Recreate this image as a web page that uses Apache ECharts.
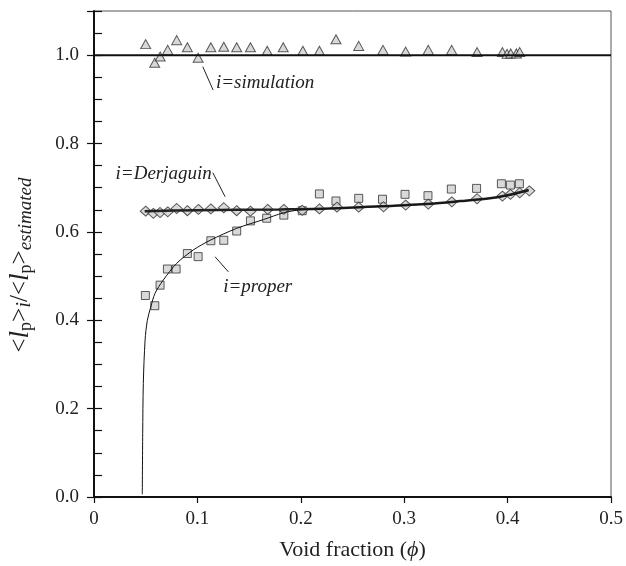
<!DOCTYPE html>
<html>
<head>
<meta charset="utf-8">
<script src="https://cdn.jsdelivr.net/npm/echarts@6/dist/echarts.min.js"></script>
<style>html,body{margin:0;padding:0;background:#fff}#c{width:626px;height:566px}</style>
</head>
<body>
<div id="c"></div>
<script>
// x = void fraction, y = ratio
const simulation = [
  [0.050,1.025],[0.0587,0.983],[0.064,0.997],[0.0713,1.012],[0.080,1.034],[0.0903,1.018],
  [0.1007,0.994],[0.113,1.018],[0.1255,1.019],[0.138,1.018],[0.1513,1.018],[0.1675,1.010],
  [0.183,1.018],[0.202,1.010],[0.218,1.010],[0.234,1.036],[0.256,1.021],[0.2795,1.012],
  [0.3014,1.008],[0.3233,1.012],[0.3459,1.012],[0.3705,1.007],[0.395,1.007],[0.3995,1.003],
  [0.403,1.004],[0.4085,1.004],[0.4117,1.007]
];
const derjaguin = [
  [0.050,0.647],[0.0574,0.642],[0.0639,0.644],[0.0713,0.6455],[0.080,0.653],[0.0903,0.648],
  [0.101,0.651],[0.113,0.652],[0.1255,0.6546],[0.138,0.648],[0.1513,0.647],[0.168,0.651],
  [0.1836,0.651],[0.2014,0.649],[0.218,0.652],[0.235,0.656],[0.256,0.656],[0.280,0.657],
  [0.3014,0.6607],[0.3233,0.663],[0.346,0.668],[0.3705,0.675],[0.395,0.681],[0.4027,0.685],
  [0.4117,0.6886],[0.421,0.693]
];
const proper = [
  [0.0497,0.456],[0.0588,0.433],[0.0639,0.4795],[0.071,0.516],[0.0794,0.516],[0.0903,0.551],
  [0.1007,0.544],[0.113,0.580],[0.1255,0.581],[0.138,0.602],[0.1513,0.625],[0.167,0.631],
  [0.1836,0.638],[0.2014,0.648],[0.218,0.686],[0.234,0.670],[0.256,0.676],[0.279,0.674],
  [0.3008,0.685],[0.323,0.682],[0.3456,0.697],[0.370,0.6985],[0.394,0.709],[0.4027,0.706],
  [0.4114,0.709]
];
const simulationFit = [[0,1.0],[0.5,1.0]];
const derjaguinFit = [
  [0.049,0.647],[0.10,0.649],[0.18,0.651],[0.2285,0.653],[0.2769,0.658],[0.325,0.664],
  [0.354,0.6697],[0.383,0.676],[0.3995,0.683],[0.4204,0.695]
];
const properFit = [
  [0.0467,0.006],[0.0471,0.1436],[0.0477,0.257],[0.0494,0.355],[0.0516,0.400],[0.0549,0.430],
  [0.059,0.461],[0.067,0.491],[0.080,0.529],[0.096,0.559],[0.1123,0.581],[0.138,0.608],
  [0.164,0.628],[0.183,0.643],[0.20,0.650],[0.25,0.655],[0.30,0.660],[0.35,0.668],
  [0.40,0.682],[0.42,0.693]
];
const xTicks = [0,0.1,0.2,0.3,0.4,0.5];
const yTicks = [0.0,0.2,0.4,0.6,0.8,1.0];
// annotations: [label, textAnchorX, textAnchorY, align, leaderFrom, leaderTo]
const annotations = [
  ['i=simulation',0.118,0.937,'left',[0.1052,0.974],[0.1152,0.921]],
  ['i=Derjaguin',0.1139,0.731,'right',[0.1149,0.734],[0.1268,0.6795]],
  ['i=proper',0.1249,0.4757,'left',[0.1171,0.5436],[0.130,0.5096]]
];

const SERIF = '"Liberation Serif","DejaVu Serif",serif';
const chart = echarts.init(document.getElementById('c'));
const mk = {color:'#cfcfcf', borderColor:'#333', borderWidth:1};
chart.setOption({
  animation:false,
  grid:{left:94,right:15,top:11,bottom:69,show:true,borderColor:'#555',borderWidth:1,
        containLabel:false,outerBoundsMode:'none'},
  xAxis:{
    type:'value',min:0,max:0.5,interval:0.1,
    axisLine:{show:true,onZero:false,lineStyle:{color:'#111',width:2}},
    axisTick:{show:true,length:6,lineStyle:{color:'#111',width:1.2}},
    splitLine:{show:false},
    axisLabel:{fontFamily:SERIF,fontSize:19,color:'#222',margin:13,
      formatter:v=>{const t=xTicks.find(a=>Math.abs(a-v)<1e-6);return t===undefined?'':(t===0?'0':String(t));}},
    name:'{a|Void fraction (}{b|\u03D5}{a|)}',nameLocation:'middle',nameGap:42,
    nameTextStyle:{fontFamily:SERIF,fontSize:22,color:'#222',
      rich:{a:{fontFamily:SERIF,fontSize:22,color:'#222'},
            b:{fontFamily:SERIF,fontSize:22,fontStyle:'italic',color:'#222'}}}
  },
  yAxis:[{
    type:'value',min:0,max:1.1,interval:0.2,
    axisLine:{show:true,onZero:false,lineStyle:{color:'#111',width:2}},
    axisTick:{show:true,length:7,lineStyle:{color:'#111',width:1.2}},
    splitLine:{show:false},
    axisLabel:{fontFamily:SERIF,fontSize:19,color:'#222',margin:15,
      formatter:v=>{const t=yTicks.find(a=>Math.abs(a-v)<1e-6);return t===undefined?'':t.toFixed(1);}},
    name:'{a|<}{l|l}{s|p}{a|>}{si|i}{a|/<}{l|l}{s|p}{a|>}{se|estimated}',
    nameLocation:'middle',nameGap:59,nameRotate:90,
    nameTextStyle:{fontFamily:SERIF,color:'#222',padding:[0,22,0,0],
      rich:{
        a:{fontFamily:SERIF,fontSize:25,color:'#222',lineHeight:29,verticalAlign:'middle'},
        l:{fontFamily:SERIF,fontSize:27,fontStyle:'italic',color:'#222',lineHeight:29,verticalAlign:'middle'},
        s:{fontFamily:SERIF,fontSize:18,color:'#222',lineHeight:29,verticalAlign:'bottom'},
        si:{fontFamily:SERIF,fontSize:21,fontStyle:'italic',color:'#222',lineHeight:29,verticalAlign:'bottom'},
        se:{fontFamily:SERIF,fontSize:19,fontStyle:'italic',color:'#222',lineHeight:29,verticalAlign:'bottom'}
      }}
  },{
    type:'value',min:0,max:1.1,interval:0.05,position:'left',
    axisLine:{show:false},
    axisTick:{show:true,inside:true,length:8,lineStyle:{color:'#111',width:1.2}},
    axisLabel:{show:false},splitLine:{show:false}
  }],
  series:[
    {type:'scatter',data:simulation,symbol:'triangle',symbolSize:[10,9],itemStyle:mk,z:2},
    {type:'scatter',data:proper,symbol:'rect',symbolSize:8,itemStyle:mk,z:2},
    {type:'scatter',data:derjaguin,symbol:'diamond',symbolSize:[11,10],itemStyle:mk,z:2},
    {type:'line',data:simulationFit,showSymbol:false,lineStyle:{color:'#111',width:2},z:5},
    {type:'line',data:derjaguinFit,showSymbol:false,smooth:0.3,lineStyle:{color:'#222',width:2.5},z:5},
    {type:'line',data:properFit,showSymbol:false,smooth:0.3,lineStyle:{color:'#111',width:1},z:6}
  ]
});
const g = [];
annotations.forEach(a=>{
  const p = chart.convertToPixel({gridIndex:0},[a[1],a[2]]);
  const f = chart.convertToPixel({gridIndex:0},a[4]);
  const t = chart.convertToPixel({gridIndex:0},a[5]);
  g.push({type:'line',shape:{x1:f[0],y1:f[1],x2:t[0],y2:t[1]},style:{stroke:'#222',lineWidth:1},z:10});
  g.push({type:'text',x:p[0],y:p[1],style:{text:a[0],fontFamily:SERIF,fontStyle:'italic',fontSize:19,fill:'#222',
    align:a[3],verticalAlign:'middle'},z:10});
});
chart.setOption({graphic:g});
</script>
</body>
</html>
